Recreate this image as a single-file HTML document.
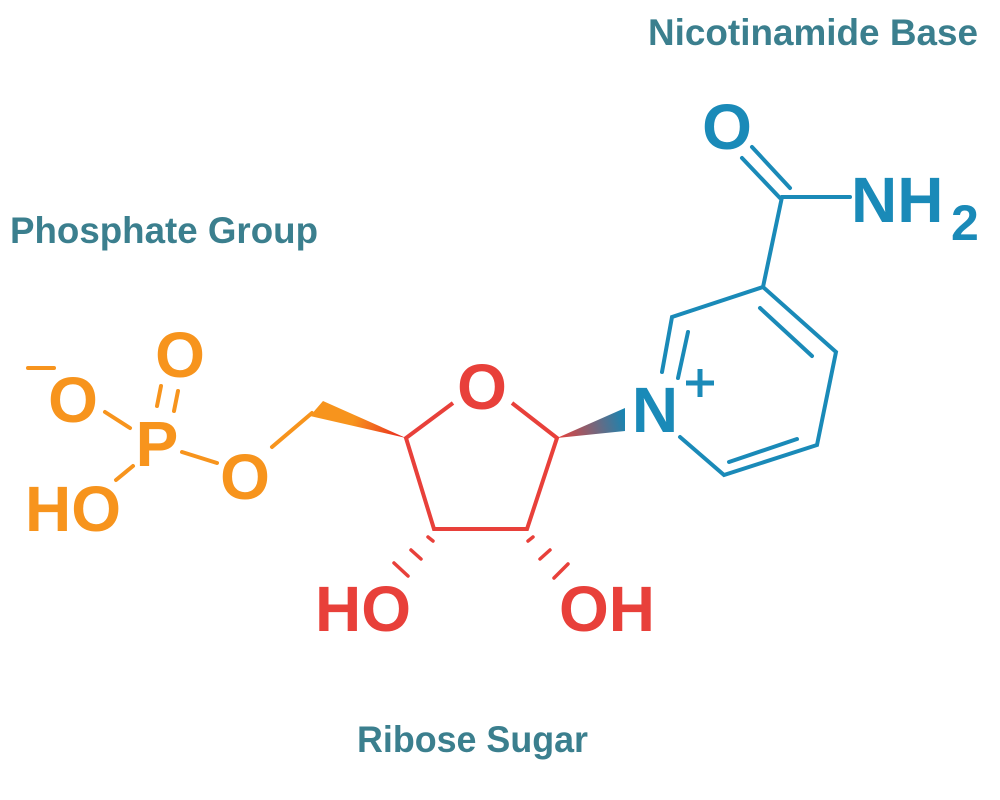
<!DOCTYPE html>
<html><head><meta charset="utf-8"><style>
html,body{margin:0;padding:0;background:#fff;}
svg{display:block;}
.lbl{font-family:"Liberation Sans Narrow","Liberation Sans",sans-serif;font-weight:bold;fill:#3b7f8e;font-size:37px;}
.at{font-family:"Liberation Sans",sans-serif;font-weight:bold;font-size:64px;}
</style></head><body>
<svg width="1000" height="800" viewBox="0 0 1000 800" xmlns="http://www.w3.org/2000/svg">
<defs>
<linearGradient id="gl" x1="406" y1="438" x2="318" y2="408" gradientUnits="userSpaceOnUse">
<stop offset="0" stop-color="#e8231f"/><stop offset="0.6" stop-color="#f7941d"/><stop offset="1" stop-color="#f7941d"/></linearGradient>
<linearGradient id="gr" x1="557" y1="438" x2="625" y2="420" gradientUnits="userSpaceOnUse">
<stop offset="0" stop-color="#e8403a"/><stop offset="1" stop-color="#1a84b0"/></linearGradient>
</defs>
<text class="lbl" x="648" y="45" textLength="330" lengthAdjust="spacingAndGlyphs">Nicotinamide Base</text>
<text class="lbl" x="10" y="243" textLength="308" lengthAdjust="spacingAndGlyphs">Phosphate Group</text>
<text class="lbl" x="357" y="752" textLength="231" lengthAdjust="spacingAndGlyphs">Ribose Sugar</text>

<g stroke="#f7941d" stroke-width="4" stroke-linecap="round" fill="none">
<line x1="105" y1="412" x2="130" y2="428"/>
<line x1="133" y1="466" x2="116" y2="480"/>
<line x1="182" y1="452" x2="217" y2="463"/>
<line x1="157" y1="406" x2="161" y2="386"/>
<line x1="174" y1="411" x2="178" y2="391"/>
<polyline points="272,447 312,413"/>
<line x1="28" y1="368" x2="54" y2="368"/>
</g>
<g class="at" fill="#f7941d">
<text x="73" y="422" text-anchor="middle">O</text>
<text x="180" y="377" text-anchor="middle">O</text>
<text x="157" y="466" text-anchor="middle">P</text>
<text x="245" y="499" text-anchor="middle">O</text>
<text x="73" y="531" text-anchor="middle">HO</text>
</g>
<polygon points="406,438 323,401 310,416" fill="url(#gl)"/>
<polygon points="557,438 625,408 625,431" fill="url(#gr)"/>
<g stroke="#e8403a" stroke-width="4" fill="none" stroke-linejoin="miter">
<polyline points="453,403 406,438 434,529 527,529 557,438 512,403"/>
</g>
<g stroke="#e8403a" stroke-width="3.5" stroke-linecap="round">
<line x1="428" y1="537" x2="433" y2="541"/>
<line x1="411" y1="550" x2="421" y2="559"/>
<line x1="394" y1="563" x2="408" y2="576"/>
<line x1="533" y1="537" x2="528" y2="541"/>
<line x1="550" y1="550" x2="540" y2="559"/>
<line x1="568" y1="564" x2="554" y2="578"/>
</g>
<g class="at" fill="#e8403a">
<text x="482" y="409" text-anchor="middle">O</text>
<text x="363" y="631" text-anchor="middle">HO</text>
<text x="607" y="631" text-anchor="middle">OH</text>
</g>
<g stroke="#1a8ab8" stroke-width="4" fill="none" stroke-linecap="round">
<polyline points="662,372 672,317 763,287 836,352 817,445 724,475 680,437"/>
<line x1="688" y1="332" x2="678" y2="378"/>
<line x1="760" y1="308" x2="812" y2="356"/>
<line x1="729" y1="462" x2="797" y2="439"/>
<line x1="763" y1="287" x2="782" y2="197"/>
<line x1="782" y1="197" x2="850" y2="197"/>
<line x1="742" y1="158" x2="780" y2="198"/>
<line x1="752" y1="147" x2="790" y2="188"/>
</g>
<g class="at" fill="#1a8ab8">
<text x="655" y="432" text-anchor="middle">N</text>
<text x="727" y="149" text-anchor="middle">O</text>
<text x="851" y="222">NH</text>
<text x="951" y="240" font-size="50">2</text>
</g>
<g stroke="#1a8ab8" stroke-width="5">
<line x1="686" y1="383" x2="714" y2="383"/>
<line x1="700" y1="369" x2="700" y2="397"/>
</g>
</svg>
</body></html>
